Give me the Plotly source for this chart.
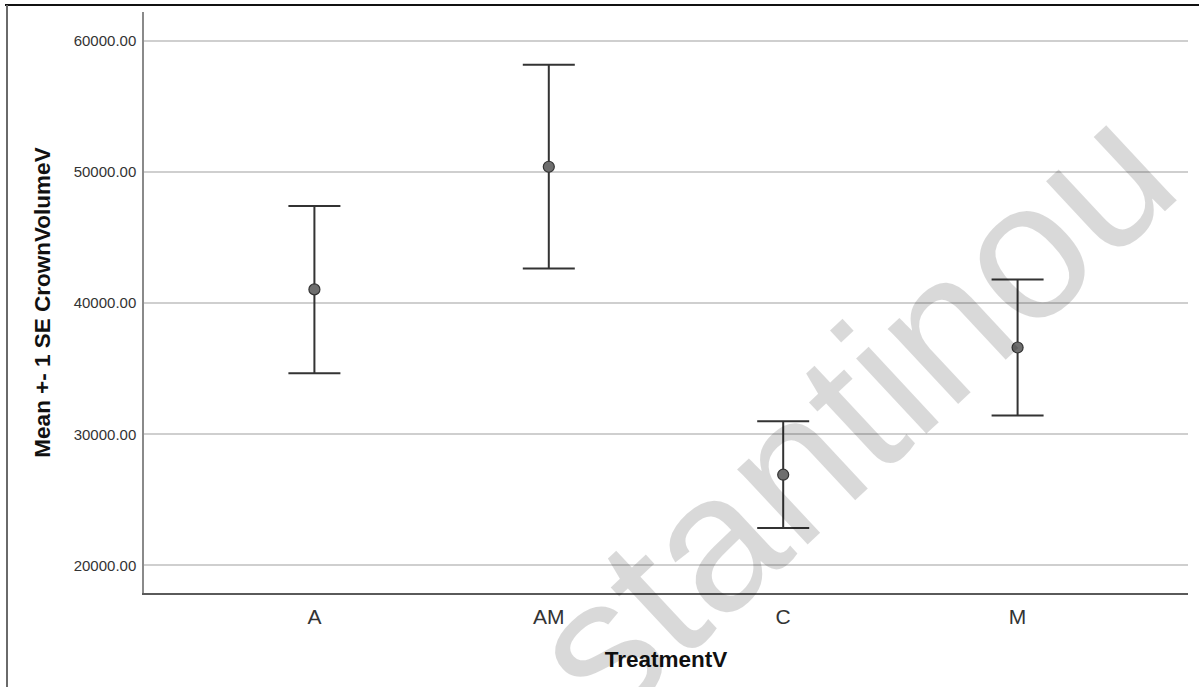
import plotly.graph_objects as go

# Data
categories = ["A", "AM", "C", "M"]
means = [41050, 50400, 26920, 36620]
upper = [47400, 58170, 30990, 41810]   # mean + 1 SE
lower = [34660, 42650, 22850, 31430]   # mean - 1 SE
y_ticks = [20000, 30000, 40000, 50000, 60000]
y_tick_labels = ["20000.00", "30000.00", "40000.00", "50000.00", "60000.00"]

err_plus = [u - m for u, m in zip(upper, means)]
err_minus = [m - l for m, l in zip(means, lower)]

W, H = 1199, 687
L, R, T, B = 144, 11, 12, 94
pw, ph = W - L - R, H - T - B


def px(x):
    return (x - L) / pw


def py(y):
    return (H - B - y) / ph


fig = go.Figure()
fig.add_trace(go.Scatter(
    x=categories, y=means, mode="markers",
    marker=dict(size=11, color="#6e6e6e", line=dict(color="#333333", width=1.2)),
    error_y=dict(type="data", symmetric=False, array=err_plus, arrayminus=err_minus,
                 color="#333333", thickness=2, width=26),
    showlegend=False, hoverinfo="skip",
))

fig.update_layout(
    width=W, height=H,
    margin=dict(l=L, r=R, t=T, b=B, pad=0),
    paper_bgcolor="white", plot_bgcolor="white",
    font=dict(family="Arial, Liberation Sans, sans-serif", color="#333333"),
)

fig.update_xaxes(
    type="category", range=[-0.727, 3.727],
    showgrid=False, showline=True, linecolor="#5a5a5a", linewidth=1.5,
    ticks="", ticklabelstandoff=4, tickfont=dict(size=21, color="#333333"),
    title=dict(text="<b>TreatmentV</b>", font=dict(size=22.5, color="#111111"), standoff=24),
    zeroline=False,
)
fig.update_yaxes(
    range=[17900, 62200],
    tickvals=y_ticks, ticktext=y_tick_labels,
    showgrid=True, gridcolor="#cfcfcf", gridwidth=1.5,
    showline=True, linecolor="#8a8a8a", linewidth=1.5,
    ticks="", ticklabelstandoff=3, tickfont=dict(size=15, color="#333333"),
    title=dict(text="<b>Mean +- 1 SE CrownVolumeV</b>", font=dict(size=22.5, color="#111111"), standoff=17),
    zeroline=False,
)

# Outer frame lines (top and left) of the original output window
fig.add_shape(type="line", xref="paper", yref="paper",
              x0=px(5), x1=px(1199), y0=py(5), y1=py(5),
              line=dict(color="#111111", width=2))
fig.add_shape(type="line", xref="paper", yref="paper",
              x0=px(7), x1=px(7), y0=py(5), y1=py(687),
              line=dict(color="#6a6a6a", width=2))

# Watermark
fig.add_annotation(
    text="stantinou", xref="paper", yref="paper",
    x=px(850), y=py(412), xanchor="center", yanchor="middle",
    textangle=-43, showarrow=False,
    font=dict(size=195, family="Arial, Liberation Sans, sans-serif", color="rgba(0,0,0,0.15)"),
)

fig.write_html("out.html", config={"displayModeBar": False},
               post_script="document.body.style.margin='0px';")
